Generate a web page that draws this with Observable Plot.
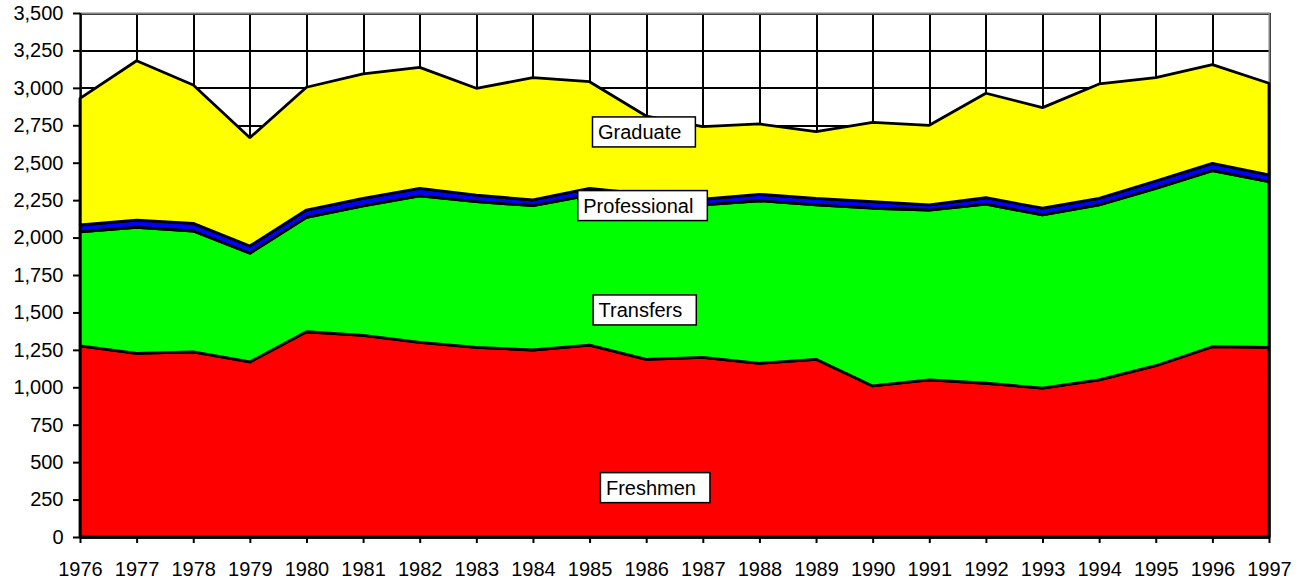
<!DOCTYPE html>
<html>
<head>
<meta charset="utf-8">
<script src="https://cdn.jsdelivr.net/npm/d3@7"></script>
<script src="https://cdn.jsdelivr.net/npm/@observablehq/plot@0.6"></script>
<style>
  html, body { margin: 0; padding: 0; background: #ffffff; }
  #chart svg { display: block; }
  #chart svg text { font-size: 20px; font-family: Arial, "Liberation Sans", sans-serif; fill: #000; }
</style>
</head>
<body>
<div id="chart"></div>
<script>
// ---- data ----
const years = [1976,1977,1978,1979,1980,1981,1982,1983,1984,1985,1986,1987,1988,1989,1990,1991,1992,1993,1994,1995,1996,1997];
const freshmen     = [1276,1227,1236,1169,1371,1347,1300,1267,1249,1282,1187,1200,1160,1187,1009,1049,1027,995,1049,1144,1271,1267];
const transfers    = [763,842,808,726,764,864,978,973,964,1002,1053,1018,1086,1031,1187,1135,1197,1156,1169,1185,1176,1106];
const professional = [45,48,51,49,49,51,51,44,38,45,50,38,43,44,44,34,42,45,44,49,49,45];
const graduate     = [846,1064,924,723,820,831,808,713,817,712,522,485,470,445,530,532,698,672,764,690,659,613];

const seriesNames  = ["Freshmen","Transfers","Professional","Graduate"];
const seriesColors = ["#ff0000","#00ff00","#0000ff","#ffff00"];

const yTicks = d3.range(0, 3501, 250);

// label annotations (text start year, vertical value)
const labelNames = ["Graduate","Professional","Transfers","Freshmen"];
const labelYears = [1985.14,1984.88,1985.15,1985.28];
const labelVals  = [2705,2213,1516,329];

// ---- build tidy table ----
const seriesValues = [freshmen, transfers, professional, graduate];
const rows = [];
seriesNames.forEach((name, si) => {
  years.forEach((yr, i) => rows.push({year: yr, series: name, value: seriesValues[si][i]}));
});
const labels = labelNames.map((n, i) => ({name: n, year: labelYears[i], value: labelVals[i]}));

const plot = Plot.plot({
  width: 1302,
  height: 581,
  marginLeft: 80,
  marginRight: 33,
  marginTop: 13,
  marginBottom: 44,
  style: {fontFamily: "Arial, 'Liberation Sans', sans-serif", fontSize: "20px", color: "#000", background: "#fff"},
  x: {domain: [1976, 1997], label: null},
  y: {domain: [0, 3500], label: null},
  color: {domain: seriesNames, range: seriesColors},
  marks: [
    Plot.gridY(yTicks, {stroke: "#000", strokeOpacity: 1, strokeWidth: 2, shapeRendering: "crispEdges"}),
    Plot.gridX(years, {stroke: "#000", strokeOpacity: 1, strokeWidth: 2, shapeRendering: "crispEdges"}),
    Plot.frame({stroke: "#808080", strokeWidth: 2}),
    Plot.areaY(rows, {x: "year", y: "value", fill: "series", z: "series", order: seriesNames,
      stroke: "#000", strokeWidth: 2.8, strokeLinejoin: "miter"}),
    Plot.ruleX([1976], {stroke: "#000", strokeWidth: 2}),
    Plot.ruleY([0], {stroke: "#000", strokeWidth: 2}),
    Plot.axisY({ticks: yTicks, tickFormat: d3.format(","), tickSize: 7, tickPadding: 10, fontSize: 20, strokeWidth: 2, label: null}),
    Plot.axisX({ticks: years, tickFormat: d => String(d), tickSize: 6, tickPadding: 18, fontSize: 20, strokeWidth: 2, label: null}),
    Plot.text(labels, {x: "year", y: "value", text: "name", textAnchor: "start", lineAnchor: "middle", fontSize: 20, fill: "#000"})
  ]
});

document.getElementById("chart").appendChild(plot);

// white boxes with black borders behind the series labels
const ns = "http://www.w3.org/2000/svg";
plot.querySelectorAll('g[aria-label="text"] text').forEach(t => {
  const b = t.getBBox();
  const r = document.createElementNS(ns, "rect");
  const tr = t.getAttribute("transform");
  if (tr) r.setAttribute("transform", tr);
  r.setAttribute("x", b.x - 5.5);
  r.setAttribute("y", b.y + b.height / 2 - 15);
  r.setAttribute("width", b.width + 19.5);
  r.setAttribute("height", 30);
  r.setAttribute("fill", "#fff");
  r.setAttribute("stroke", "#000");
  r.setAttribute("stroke-width", 1.5);
  t.parentNode.insertBefore(r, t);
});
</script>
</body>
</html>
